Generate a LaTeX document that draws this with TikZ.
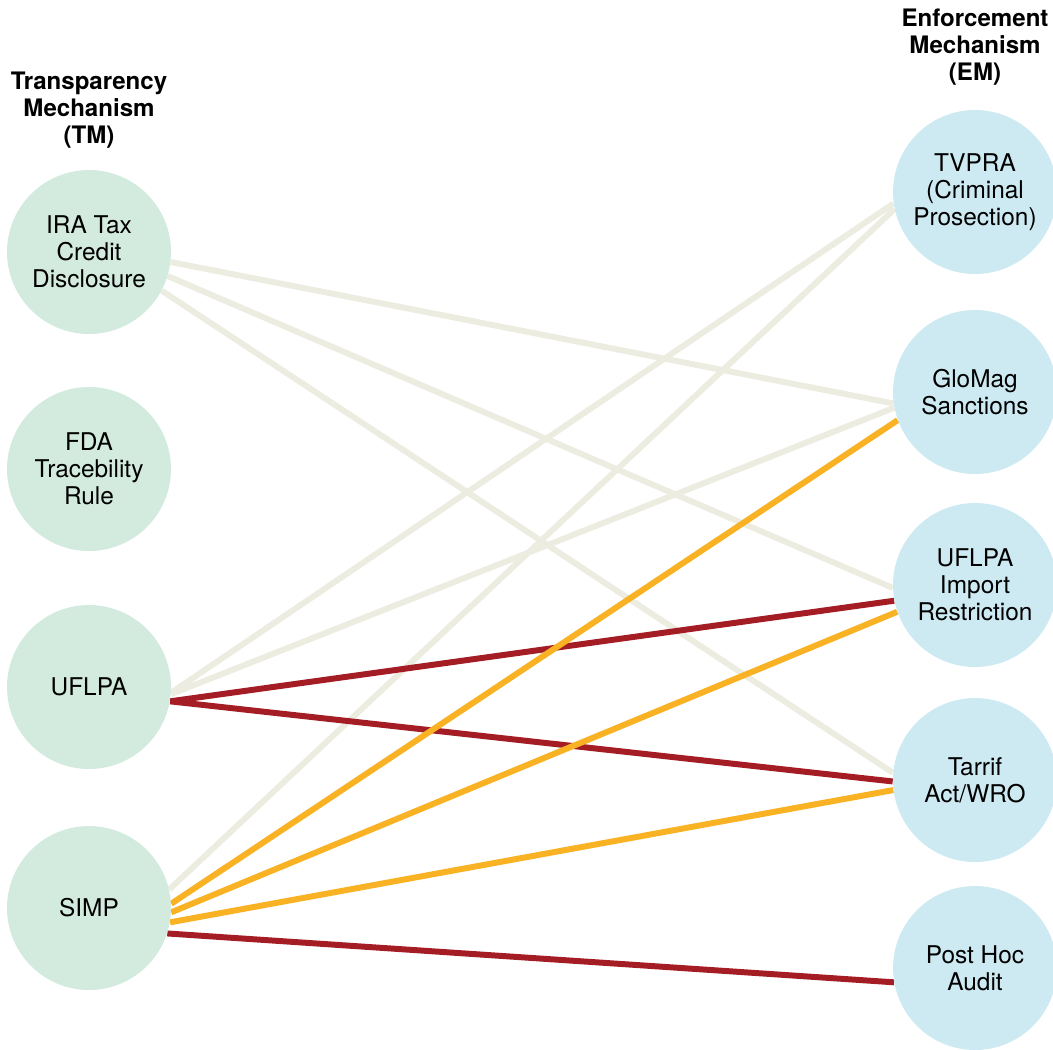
\documentclass[tikz,border=0pt]{standalone}
\usepackage{fontspec}
\setmainfont{TeX Gyre Heros}
\usetikzlibrary{backgrounds, positioning}
\definecolor{tmgreen}{HTML}{D3EBDF}
\definecolor{emblue}{HTML}{CDEAF2}
\definecolor{lweak}{HTML}{ECEDE0}
\definecolor{lstrong}{HTML}{A41D24}
\definecolor{lmid}{HTML}{F9B223}
\tikzstyle{mnode} = [%
  circle,
  draw=none,
  minimum size=3.28cm,
  align=center,
  text centered,
  inner sep=0pt,
  font=\fontsize{13.9}{15.4}\selectfont
]

\begin{document}
\begin{tikzpicture}[%
  x=0.02cm, y=-0.02cm,
  tm/.style={mnode, fill=tmgreen},
  em/.style={mnode, fill=emblue},
  head/.style={align=center, font=\fontsize{13.7}{15.4}\selectfont\bfseries},
  link/.style={line width=3.4pt},
  weak/.style={link, draw=lweak},
  strong/.style={link, draw=lstrong},
  mid/.style={link, draw=lmid}
]
  \useasboundingbox (0,0) rectangle (1053,1049);

  % Headers
  \node[head] (TMhead) at (89,110) {Transparency\\Mechanism\\(TM)};
  \node[head] (EMhead) at (975,47) {Enforcement\\Mechanism\\(EM)};

  % Transparency nodes
  \node[tm] (IRA) at (89,252) {IRA Tax\\Credit\\Disclosure};
  \node[tm] (FDA) at (89,469) {FDA\\Tracebility\\Rule};
  \node[tm] (UFLPA) at (89,687) {UFLPA};
  \node[tm] (SIMP) at (89,908) {SIMP};

  % Enforcement nodes
  \node[em] (TVPRA) at (975,192) {TVPRA\\(Criminal\\Prosection)};
  \node[em] (GloMag) at (975,392) {GloMag\\Sanctions};
  \node[em] (UFLPAIR) at (975,585) {UFLPA\\Import\\Restriction};
  \node[em] (Tarrif) at (975,780) {Tarrif\\Act/WRO};
  \node[em] (PostHoc) at (975,968) {Post Hoc\\Audit};

  % Edges
  \begin{scope}[on background layer]
    \draw[weak] (IRA.-7) -- (GloMag.188);
    \draw[weak] (IRA.-17) -- (UFLPAIR.182);
    \draw[weak] (IRA.-28) -- (Tarrif.175);
    \draw[weak] (UFLPA.-4) -- (TVPRA.188);
    \draw[weak] (UFLPA.-5) -- (GloMag.191);
    \draw[weak] (SIMP.13) -- (TVPRA.192);
    \draw[strong] (UFLPA.-10) -- (UFLPAIR.191);
    \draw[strong] (UFLPA.-10) -- (Tarrif.181);
    \draw[strong] (SIMP.-18) -- (PostHoc.190);
    \draw[mid] (SIMP.3) -- (GloMag.200);
    \draw[mid] (SIMP.-3) -- (UFLPAIR.199);
    \draw[mid] (SIMP.-10) -- (Tarrif.187);
  \end{scope}

\end{tikzpicture}
\end{document}
